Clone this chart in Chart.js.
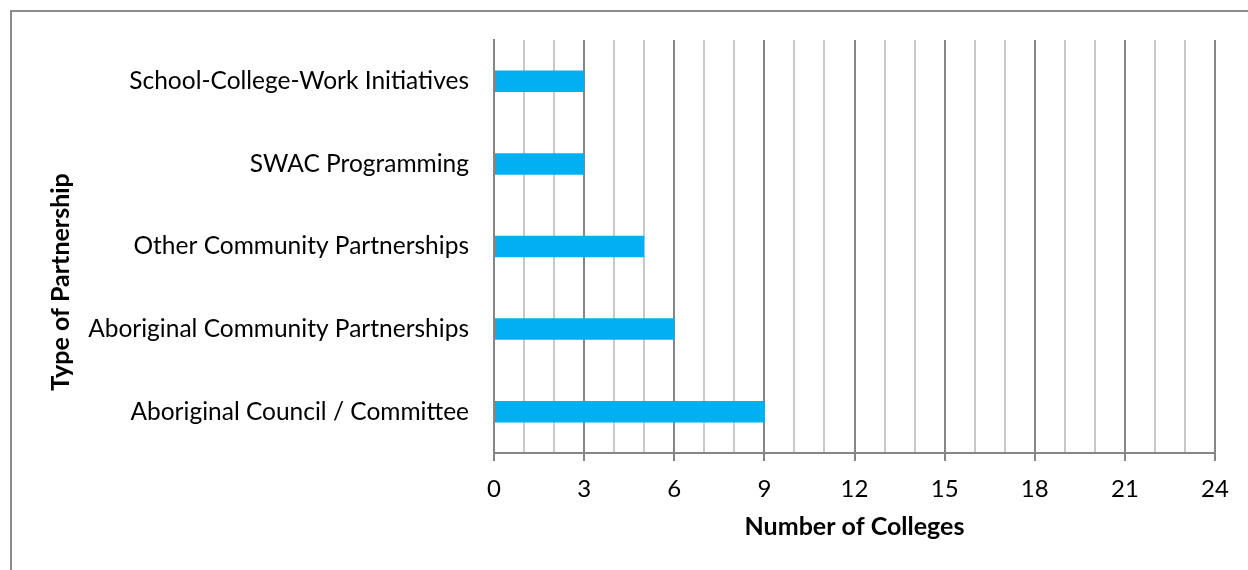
<!DOCTYPE html>
<html lang="en">
<head>
    <meta charset="UTF-8">
    <title>Type of Partnership</title>
    <script src="https://cdn.jsdelivr.net/npm/chart.js"></script>
    <style>
        body { margin: 0; background: #fff; }
        #frame { position: absolute; left: 10px; top: 10px; width: 1250px; height: 570px;
                 border-left: 2px solid #8c8c8c; border-top: 2px solid #8c8c8c; }
        #wrap { position: absolute; left: 0; top: 0; width: 1248px; height: 570px; }
    </style>
</head>
<body>
    <div id="frame"></div>
    <div id="wrap"><canvas id="partnerChart"></canvas></div>

    <script>
        const categories = [
            'School-College-Work Initiatives',
            'SWAC Programming',
            'Other Community Partnerships',
            'Aboriginal Community Partnerships',
            'Aboriginal Council / Committee'
        ];
        const colleges = [3, 3, 5, 6, 9];
        const xMin = 0;
        const xMax = 24;
        const labelStep = 3;

        const fontFamily = 'Lato, "Open Sans", sans-serif';
        const majorLine = '#868686';
        const minorLine = '#c8c8c8';

        // Excel centres the vertical axis title on the whole chart, not the plot,
        // so it is drawn here rather than through scale.title
        const yTitlePlugin = {
            id: 'yTitle',
            afterDraw(chart) {
                const c = chart.ctx;
                c.save();
                c.translate(61, 282);
                c.rotate(-Math.PI / 2);
                c.font = 'bold 25px ' + fontFamily;
                c.fillStyle = '#000';
                c.textAlign = 'center';
                c.textBaseline = 'middle';
                c.fillText('Type of Partnership', 0, 0);
                c.restore();
            }
        };

        const ctx = document.getElementById('partnerChart').getContext('2d');

        new Chart(ctx, {
            type: 'bar',
            data: {
                labels: categories,
                datasets: [{
                    label: 'Number of Colleges',
                    data: colleges,
                    backgroundColor: '#00b0f0',
                    borderWidth: 0,
                    barPercentage: 0.26,
                    categoryPercentage: 1
                }]
            },
            options: {
                indexAxis: 'y',
                responsive: true,
                maintainAspectRatio: false,
                animation: false,
                layout: { padding: { top: 40, right: 33, left: 40, bottom: 0 } },
                plugins: {
                    legend: { display: false },
                    tooltip: { enabled: false }
                },
                scales: {
                    x: {
                        min: xMin,
                        max: xMax,
                        afterFit: s => { s.height = 117; },
                        ticks: {
                            stepSize: 1,
                            autoSkip: false,
                            maxRotation: 0,
                            color: '#000',
                            padding: 14,
                            font: { family: fontFamily, size: 24 },
                            callback: v => (v % labelStep === 0 ? String(v) : '')
                        },
                        grid: {
                            color: c => (c.tick && c.tick.value % labelStep === 0 ? majorLine : minorLine),
                            tickColor: c => (c.tick && c.tick.value % labelStep === 0 ? majorLine : 'rgba(0,0,0,0)'),
                            lineWidth: 2,
                            tickLength: 8
                        },
                        border: { color: majorLine, width: 2 },
                        title: {
                            display: true,
                            text: 'Number of Colleges',
                            color: '#000',
                            font: { family: fontFamily, size: 25, weight: 'bold' },
                            padding: 28
                        }
                    },
                    y: {
                        afterFit: s => { s.width = 454; },
                        ticks: {
                            color: '#000',
                            padding: 25,
                            font: { family: fontFamily, size: 24.5 }
                        },
                        grid: { display: false, drawTicks: false },
                        border: { color: majorLine, width: 2 },
                        title: { display: false }
                    }
                }
            },
            plugins: [yTitlePlugin]
        });
    </script>
</body>
</html>
